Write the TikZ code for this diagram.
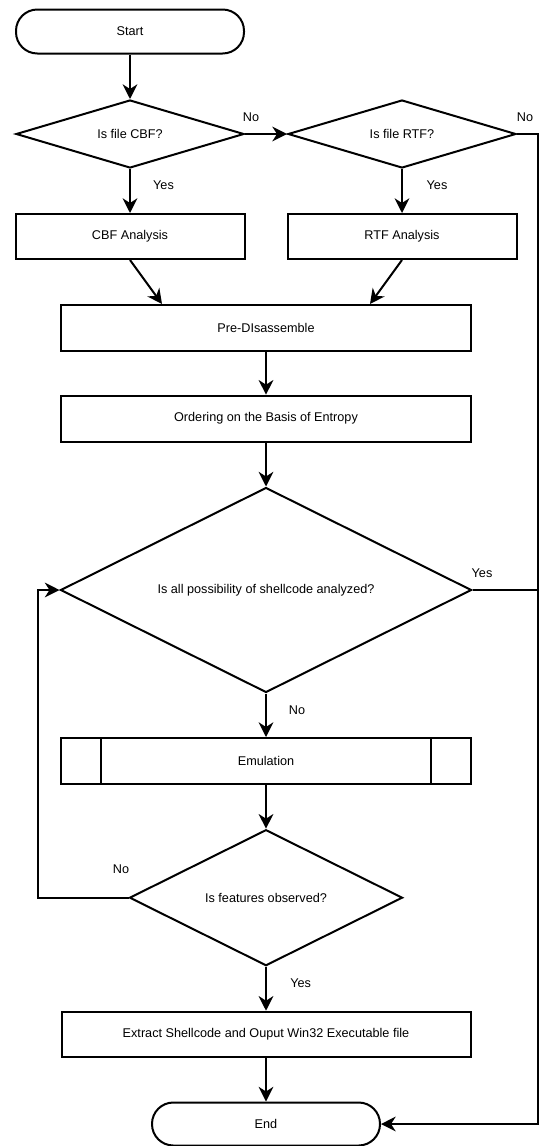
\documentclass[tikz,border=0pt]{standalone}
\usepackage{fontspec}
\setmainfont{Liberation Sans}
\usetikzlibrary{shapes.geometric,arrows.meta}

\begin{document}
\begin{tikzpicture}[x=0.75pt,y=-0.75pt,
line width=1.5pt,
>={Stealth[length=11pt,width=11pt,inset=3.5pt]},
every node/.style={font=\fontsize{9.5}{11}\selectfont},
term/.style={draw, rectangle, rounded corners=16pt, minimum width=171pt, minimum height=33pt},
proc/.style={draw, rectangle, minimum width=307.5pt, minimum height=34.5pt},
dec/.style={draw, diamond, inner sep=0pt, aspect=2},
lbl/.style={inner sep=0pt}
]
\useasboundingbox (0,0) rectangle (541,1146);

\node[term] (start) at (130,31.5){Start};
\node[dec, aspect=3.3, minimum width=171pt, minimum height=51pt] (cbfq) at (130,134){Is file CBF?};
\node[dec, aspect=3.3, minimum width=171pt, minimum height=51pt] (rtfq) at (402,134){Is file RTF?};
\node[proc, minimum width=171.75pt, minimum height=33.75pt] (cbf) at (130,236.5){CBF Analysis};
\node[proc, minimum width=171.75pt, minimum height=33.75pt] (rtf) at (402,236.5){RTF Analysis};
\node[proc] (pre) at (266,328){Pre-DIsassemble};
\node[proc] (order) at (266,418.7){Ordering on the Basis of Entropy};
\node[dec, minimum width=308.25pt, minimum height=153.75pt] (allq) at (266,590){Is all possibility of shellcode analyzed?};
\node[proc] (emu) at (266,761){Emulation};
\node[dec, minimum width=204.75pt, minimum height=102pt] (featq) at (266,897.7){Is features observed?};
\node[proc, minimum width=306.75pt, minimum height=34pt] (extract) at (266,1034.4){Extract Shellcode and Ouput Win32 Executable file};
\node[term, minimum height=32.25pt] (stop) at (266,1124){End};

% side bars of the subprocess box
\draw ([xshift=30.75pt]emu.north west) -- ([xshift=30.75pt]emu.south west);
\draw ([xshift=-30.75pt]emu.north east) -- ([xshift=-30.75pt]emu.south east);

\coordinate (rline) at (538,134);
\coordinate (lline) at (38,590);

\draw[->] (start) -- (cbfq);
\draw[->] (cbfq) -- (rtfq);
\draw[->] (cbfq) -- (cbf);
\draw[->] (rtfq) -- (rtf);
\draw[->] (rtfq.east) -- (rline) |- (stop.east);
\draw[->] (cbf.south) -- ([xshift=-78pt]pre.north);
\draw[->] (rtf.south) -- ([xshift=78pt]pre.north);
\draw[->] (pre) -- (order);
\draw[->] (order) -- (allq);
\draw[->] (allq) -- (emu);
\draw (allq.east) -- (allq.east -| rline);
\draw[->] (emu) -- (featq);
\draw[->] (featq.west) -| (lline) -- (allq.west);
\draw[->] (featq) -- (extract);
\draw[->] (extract) -- (stop);

\node[lbl] (no1) at (251,117){No};
\node[lbl] (no2) at (525,117){No};
\node[lbl] (yes1) at (163.5,185){Yes};
\node[lbl] (yes2) at (437,185){Yes};
\node[lbl] (yes3) at (482,573){Yes};
\node[lbl] (no3) at (297,710){No};
\node[lbl] (no4) at (121,869){No};
\node[lbl] (yes4) at (300.7,983){Yes};

\end{tikzpicture}
\end{document}
